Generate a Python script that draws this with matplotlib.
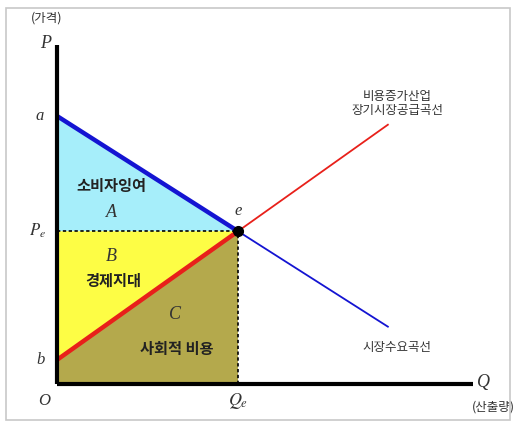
import numpy as np
import matplotlib
matplotlib.use("Agg")
import matplotlib.pyplot as plt
from matplotlib.patches import Polygon, Rectangle

# chart values (economic units)
a = 10.0        # demand intercept
b = 0.9         # supply intercept
qe = 5.0        # equilibrium quantity
pe = 5.7        # equilibrium price
q_end = 9.14    # where the drawn curves stop
x_max = 11.5
y_max = 12.65

demand_slope = (pe - a) / qe
supply_slope = (pe - b) / qe

kr = ['Noto Sans CJK KR', 'DejaVu Sans']
it = dict(family='Liberation Serif', style='italic', color='#333333')

fig = plt.figure(figsize=(5.16, 4.28), dpi=100)
ax = fig.add_axes([0, 0, 1, 1])
ax.set_xlim(-57 / 36.2, (516 - 57) / 36.2)
ax.set_ylim((384 - 428) / 26.8, 384 / 26.8)
ax.axis('off')

# outer frame
fig.patches.append(Rectangle((6 / 516, 1 - 420 / 428), 504 / 516, 412 / 428,
                             transform=fig.transFigure, fill=False,
                             edgecolor='#c8c8c8', linewidth=1.2))

# areas
ax.add_patch(Polygon([(0, a), (0, pe), (qe, pe)], closed=True,
                     facecolor='#a6eefa', edgecolor='none'))
ax.add_patch(Polygon([(0, pe), (0, b), (qe, pe)], closed=True,
                     facecolor='#fdfd45', edgecolor='none'))
ax.add_patch(Polygon([(0, b), (0, 0), (qe, 0), (qe, pe)], closed=True,
                     facecolor='#b4a94c', edgecolor='none'))

# dashed guides
ax.plot([0, qe], [pe, pe], color='black', lw=1.2, ls=(0, (2, 1.5)))
ax.plot([qe, qe], [0, pe], color='black', lw=1.2, ls=(0, (2, 1.5)))

# demand curve
ax.plot([0, qe], [a, pe], color='#1414d2', lw=3.2, solid_capstyle='butt')
ax.plot([qe, q_end], [pe, a + demand_slope * q_end], color='#1414d2', lw=1.3)

# supply curve
ax.plot([0, qe], [b, pe], color='#e8201a', lw=3.2, solid_capstyle='butt')
ax.plot([qe, q_end], [pe, b + supply_slope * q_end], color='#e8201a', lw=1.3)

ax.plot([qe], [pe], 'o', color='black', ms=7)

# axes
ax.plot([0, 0], [0, y_max], color='black', lw=3, solid_capstyle='butt')
ax.plot([0, x_max], [0, 0], color='black', lw=3, solid_capstyle='butt')

# letter labels
ax.text(-0.32, y_max + 0.05, 'P', fontsize=13, ha='center', va='center', **it)
ax.text(-0.3, 13.66, '(가격)', fontsize=9, ha='center', va='center',
        family=kr, color='#333333')
ax.text(-0.35, a, 'a', fontsize=12, ha='right', va='center', **it)
ax.text(-0.3, pe, r'$P_e$', fontsize=12, ha='right', va='center', color='#333333',
        math_fontfamily='stix')
ax.text(-0.35, b, 'b', fontsize=12, ha='right', va='center', **it)
ax.text(-0.35, -0.65, 'O', fontsize=12, ha='center', va='center', **it)
ax.text(qe, -0.65, r'$Q_e$', fontsize=13, ha='center', va='center', color='#333333',
        math_fontfamily='stix')
ax.text(x_max + 0.1, 0.05, 'Q', fontsize=13, ha='left', va='center', **it)
ax.text(x_max + 0.55, -0.85, '(산출량)', fontsize=9, ha='center', va='center',
        family=kr, color='#333333')
ax.text(qe, pe + 0.45, 'e', fontsize=12, ha='center', va='bottom', **it)

# area labels
ax.text(1.5, 7.4, '소비자잉여', fontsize=11, ha='center', va='center',
        family=kr, color='#222222', weight='bold')
ax.text(1.5, 6.4, 'A', fontsize=13, ha='center', va='center', **it)
ax.text(1.5, 4.75, 'B', fontsize=13, ha='center', va='center', **it)
ax.text(1.55, 3.85, '경제지대', fontsize=11, ha='center', va='center',
        family=kr, color='#222222', weight='bold')
ax.text(3.25, 2.6, 'C', fontsize=13, ha='center', va='center', **it)
ax.text(3.3, 1.3, '사회적 비용', fontsize=11, ha='center', va='center',
        family=kr, color='#222222', weight='bold')

# curve labels
ax.text(9.4, 10.45, '비용증가산업\n장기시장공급곡선', fontsize=9, ha='center',
        va='center', family=kr, color='#333333', linespacing=1.1)
ax.text(9.4, 1.35, '시장수요곡선', fontsize=9, ha='center', va='center',
        family=kr, color='#333333')

fig.savefig('out.png', dpi=100)
